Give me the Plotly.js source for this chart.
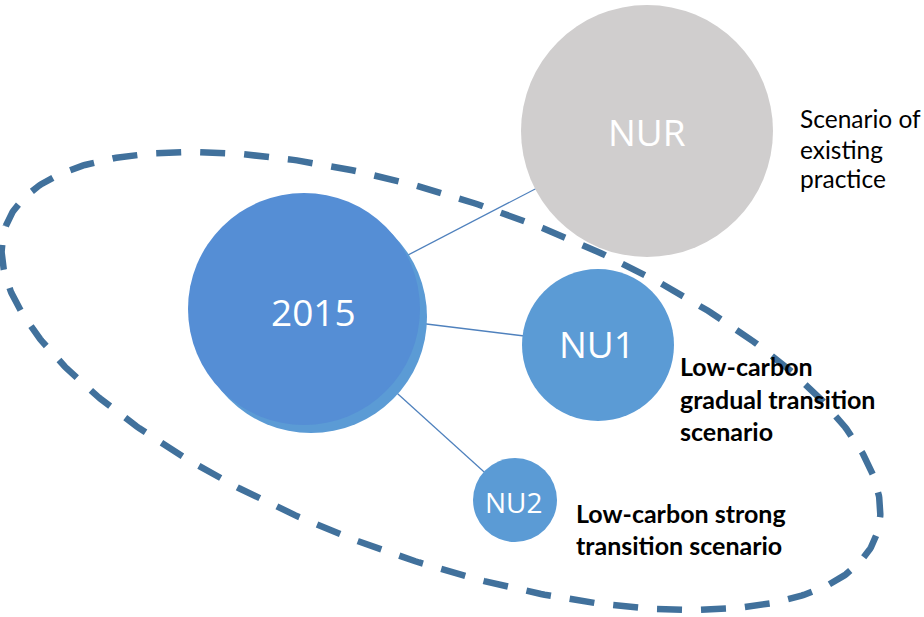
<!DOCTYPE html>
<html>
<head>
<meta charset="utf-8">
<script src="https://cdn.plot.ly/plotly-3.0.1.min.js"></script>
<style>html,body{margin:0;padding:0;background:#fff;}#chart{width:924px;height:617px;}</style>
</head>
<body>
<div id="chart"></div>
<script>
// ---- data ----
var nodeNames   = ["2015", "NUR", "NU1", "NU2"];
var nodeX       = [304, 647, 598, 515];
var nodeY       = [309, 131, 345, 500];
var nodeR       = [116, 126, 76, 42];
var nodeColors  = ["#558ED5", "#D0CECE", "#5B9BD5", "#5B9BD5"];
var labelX      = [313, 647, 597, 514];
var labelY      = [311, 131, 343, 502];
var labelSize   = [37, 37, 37, 28];
var links       = [[0, 1], [0, 2], [0, 3]];

var descLines   = ["Scenario of", "existing", "practice",
                   "Low-carbon", "gradual transition", "scenario",
                   "Low-carbon strong", "transition scenario"];
var descX       = [798, 798, 798, 678, 678, 678, 574, 574];
var descY       = [118, 149, 178, 366, 399, 431, 513, 545];
var descBold    = [false, false, false, true, true, true, true, true];

// dashed grouping ellipse (centre, semi-axes, tilt in degrees)
var ellCx = 441, ellCy = 381, ellA = 462, ellB = 179, ellTilt = 19.6;

// ---- build ----
var shapes = [];
links.forEach(function (l) {
  shapes.push({type: "line", layer: "below", xref: "x", yref: "y",
    x0: nodeX[l[0]], y0: nodeY[l[0]], x1: nodeX[l[1]], y1: nodeY[l[1]],
    line: {color: "#4F81BD", width: 1.3}});
});
// soft rim behind the 2015 bubble
shapes.push({type: "circle", layer: "below", xref: "x", yref: "y",
  x0: nodeX[0] - nodeR[0] + 7, x1: nodeX[0] + nodeR[0] + 7,
  y0: nodeY[0] - nodeR[0] + 8, y1: nodeY[0] + nodeR[0] + 8,
  fillcolor: "#5B9BD5", line: {width: 0}});
for (var i = 0; i < nodeNames.length; i++) {
  shapes.push({type: "circle", layer: "below", xref: "x", yref: "y",
    x0: nodeX[i] - nodeR[i], x1: nodeX[i] + nodeR[i],
    y0: nodeY[i] - nodeR[i], y1: nodeY[i] + nodeR[i],
    fillcolor: nodeColors[i], line: {width: 0}});
}

var ex = [], ey = [];
var th = ellTilt * Math.PI / 180;
for (var k = 0; k <= 720; k++) {
  var t = Math.PI + k * Math.PI / 360;
  var u = ellA * Math.cos(t), v = ellB * Math.sin(t);
  ex.push(ellCx + u * Math.cos(th) - v * Math.sin(th));
  ey.push(ellCy + u * Math.sin(th) + v * Math.cos(th));
}
var traces = [{
  type: "scatter", mode: "lines", x: ex, y: ey, hoverinfo: "skip",
  line: {color: "#41719C", width: 6.5, dash: "25px,19px"}
}];

var annotations = [];
for (var j = 0; j < nodeNames.length; j++) {
  annotations.push({xref: "x", yref: "y", x: labelX[j], y: labelY[j],
    text: nodeNames[j], showarrow: false, xanchor: "center", yanchor: "middle",
    font: {family: "Open Sans, sans-serif", size: labelSize[j], color: "#FFFFFF"}});
}
for (var m = 0; m < descLines.length; m++) {
  annotations.push({xref: "x", yref: "y", x: descX[m], y: descY[m],
    text: descBold[m] ? "<b>" + descLines[m] + "</b>" : descLines[m],
    showarrow: false, xanchor: "left", yanchor: "middle",
    font: {family: "Lato, sans-serif", size: descBold[m] ? 25 : 24.5, color: "#000000"}});
}

var layout = {
  width: 924, height: 617, margin: {l: 0, r: 0, t: 0, b: 0},
  paper_bgcolor: "#FFFFFF", plot_bgcolor: "#FFFFFF", showlegend: false,
  xaxis: {range: [0, 924], visible: false, fixedrange: true},
  yaxis: {range: [617, 0], visible: false, fixedrange: true},
  shapes: shapes, annotations: annotations
};
Plotly.newPlot("chart", traces, layout, {displayModeBar: false, staticPlot: true});
</script>
</body>
</html>
